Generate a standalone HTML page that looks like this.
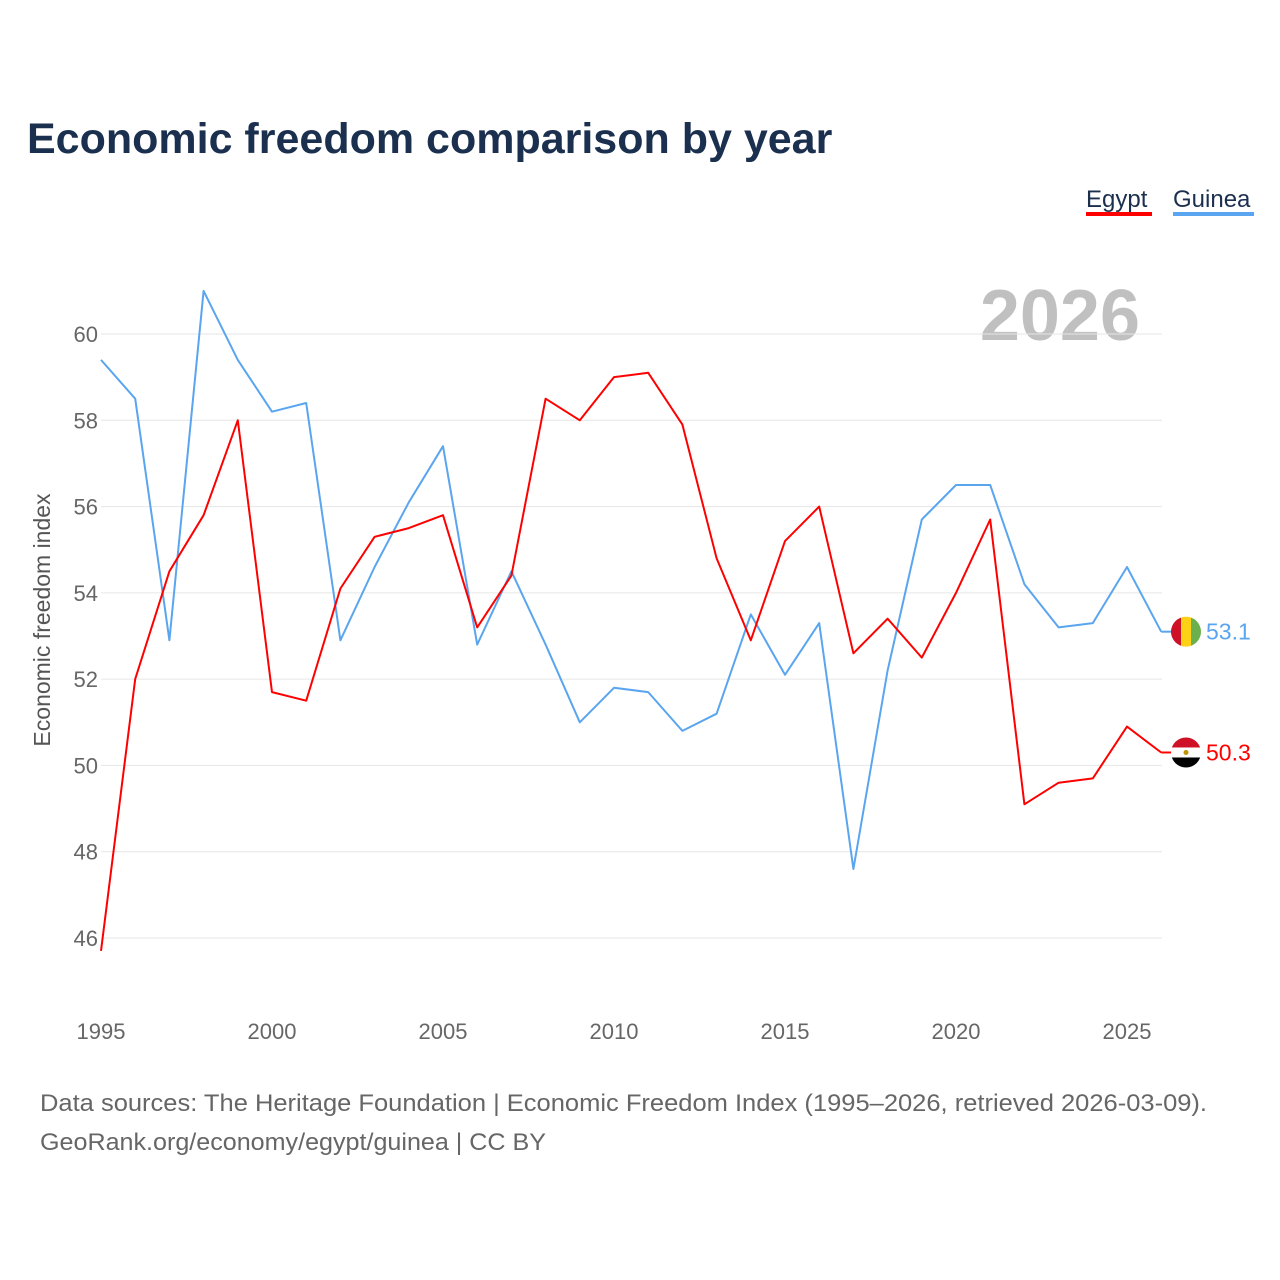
<!DOCTYPE html>
<html><head><meta charset="utf-8">
<style>
html,body{margin:0;padding:0;background:#fff;}
body{width:1280px;height:1280px;position:relative;font-family:"Liberation Sans",sans-serif;overflow:hidden;}
</style></head>
<body>
<svg id="chart" width="1280" height="1280" xmlns="http://www.w3.org/2000/svg" style="position:absolute;left:0;top:0">
  <text x="27" y="153" font-size="43" font-weight="bold" fill="#1b2f4e" font-family="Liberation Sans, sans-serif">Economic freedom comparison by year</text>
  <g>
    <text x="1086" y="207" font-size="24" fill="#1b2f4e">Egypt</text>
    <rect x="1086" y="212" width="66" height="4" fill="#ff0000"/>
    <text x="1173" y="207" font-size="24" fill="#1b2f4e">Guinea</text>
    <rect x="1173" y="212" width="81" height="4" fill="#5aa5ef"/>
  </g>
  <text x="1140" y="340" font-size="72" font-weight="bold" fill="#c0c0c0" text-anchor="end">2026</text>
  <text transform="translate(50,620) rotate(-90)" font-size="23" fill="#555" text-anchor="middle">Economic freedom index</text>
  <g id="grid"></g><g id="yticks"></g><g id="xticks"></g><g id="series"></g><g id="endlabels"></g>
  <text x="40" y="1111" font-size="24" fill="#666" textLength="1167" lengthAdjust="spacingAndGlyphs">Data sources: The Heritage Foundation | Economic Freedom Index (1995–2026, retrieved 2026-03-09).</text>
  <text x="40" y="1150" font-size="24" fill="#666" textLength="506" lengthAdjust="spacingAndGlyphs">GeoRank.org/economy/egypt/guinea | CC BY</text>
</svg>
<script>
const years = [1995,1996,1997,1998,1999,2000,2001,2002,2003,2004,2005,2006,2007,2008,2009,2010,2011,2012,2013,2014,2015,2016,2017,2018,2019,2020,2021,2022,2023,2024,2025,2026];
const egypt = [45.7,52.0,54.5,55.8,58.0,51.7,51.5,54.1,55.3,55.5,55.8,53.2,54.4,58.5,58.0,59.0,59.1,57.9,54.8,52.9,55.2,56.0,52.6,53.4,52.5,54.0,55.7,49.1,49.6,49.7,50.9,50.3];
const guinea = [59.4,58.5,52.9,61.0,59.4,58.2,58.4,52.9,54.6,56.1,57.4,52.8,54.5,52.8,51.0,51.8,51.7,50.8,51.2,53.5,52.1,53.3,47.6,52.2,55.7,56.5,56.5,54.2,53.2,53.3,54.6,53.1];
const yTicks = [46,48,50,52,54,56,58,60];
const xTicks = [1995,2000,2005,2010,2015,2020,2025];

const NS="http://www.w3.org/2000/svg";
const xS = y => 101 + (y-1995)*(1127-101)/30;
const yS = v => 334 + (60-v)*(938-334)/14;
function mk(tag, attrs, parent){const e=document.createElementNS(NS,tag);for(const k in attrs)e.setAttribute(k,attrs[k]);document.getElementById(parent).appendChild(e);return e;}

yTicks.forEach(t=>{
  const l=mk('line',{x1:101,x2:1162,y1:yS(t),y2:yS(t),stroke:'#e6e6e6','stroke-width':1},'grid');
  
  
  const tx=mk('text',{x:98,y:yS(t)+8,'font-size':22,fill:'#666','text-anchor':'end'},'yticks');
  tx.textContent=t;
  
  
});
xTicks.forEach(t=>{
  const tx=mk('text',{x:xS(t),y:1039,'font-size':22,fill:'#666','text-anchor':'middle'},'xticks');
  tx.textContent=t;
  
  
});
function line(vals){
  return vals.map((v,i)=>(i?'L':'M')+xS(years[i]).toFixed(1)+','+yS(v).toFixed(1)).join('');
}
const pg=mk('path',{d:line(guinea),fill:'none',stroke:'#5aa5ef','stroke-width':2,'stroke-linejoin':'round'},'series');


const pe=mk('path',{d:line(egypt),fill:'none',stroke:'#ff0000','stroke-width':2,'stroke-linejoin':'round'},'series');



const last=years.length-1;
const lx=xS(years[last]);
const gy=yS(guinea[last]);
const gm=mk('line',{x1:lx,x2:1172,y1:gy,y2:gy,stroke:'#5aa5ef','stroke-width':2},'endlabels');


const gf=mk('g',{},'endlabels');


gf.innerHTML=`<defs><clipPath id="cg"><circle cx="1186" cy="${gy}" r="15"/></clipPath></defs><g clip-path="url(#cg)"><rect x="1171" y="${gy-15}" width="10" height="30" fill="#ce1126"/><rect x="1181" y="${gy-15}" width="10" height="30" fill="#fcd116"/><rect x="1191" y="${gy-15}" width="10" height="30" fill="#6ab04c"/></g>`;
const gl=mk('text',{x:1206,y:gy+8,'font-size':23,fill:'#5aa5ef'},'endlabels');
gl.textContent=guinea[last].toFixed(1);


const ey=yS(egypt[last]);
const em=mk('line',{x1:lx,x2:1172,y1:ey,y2:ey,stroke:'#ff0000','stroke-width':2},'endlabels');


const ef=mk('g',{},'endlabels');


ef.innerHTML=`<defs><clipPath id="ce"><circle cx="1186" cy="${ey}" r="15"/></clipPath></defs><g clip-path="url(#ce)"><rect x="1171" y="${ey-15}" width="30" height="10" fill="#ce1126"/><rect x="1171" y="${ey-5}" width="30" height="10" fill="#fff"/><rect x="1171" y="${ey+5}" width="30" height="10" fill="#000"/><circle cx="1186" cy="${ey}" r="2.5" fill="#c09300"/></g>`;
const el=mk('text',{x:1206,y:ey+8,'font-size':23,fill:'#ff0000'},'endlabels');
el.textContent=egypt[last].toFixed(1);


</script>
</body></html>
